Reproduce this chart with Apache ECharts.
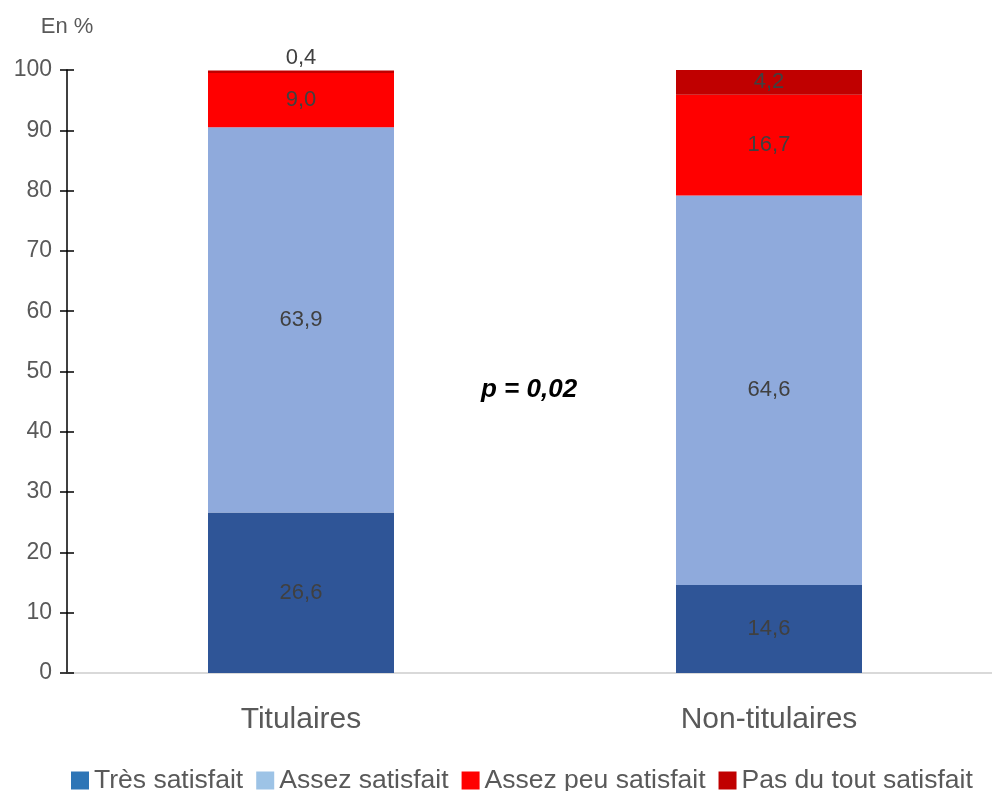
<!DOCTYPE html>
<html>
<head>
<meta charset="utf-8">
<script src="https://cdn.jsdelivr.net/npm/echarts@6/dist/echarts.min.js"></script>
<style>
  html, body { margin: 0; padding: 0; background: #fff; }
  #chart { width: 992px; height: 791px; }
</style>
</head>
<body>
<div id="chart"></div>
<script>
var categories = ["Titulaires", "Non-titulaires"];
var seriesNames = ["Très satisfait", "Assez satisfait", "Assez peu satisfait", "Pas du tout satisfait"];
var tresSatisfait = [26.6, 14.6];
var assezSatisfait = [63.9, 64.6];
var assezPeuSatisfait = [9.0, 16.7];
var pasDuToutSatisfait = [0.4, 4.2];
var yTicks = [0, 10, 20, 30, 40, 50, 60, 70, 80, 90, 100];

var barColors = ["#2F5597", "#8FAADC", "#FF0000", "#C00000"];
var legendColors = ["#2E75B6", "#9DC3E6", "#FF0000", "#C00000"];
var font = "Liberation Sans";

function fmt(v) {
  return v.toFixed(1).replace(".", ",");
}

function makeData(values) {
  return values.map(function (v) {
    // very thin segments get their label above the bar
    if (v < 1) {
      return { value: v, label: { position: "top", distance: 2 } };
    }
    return v;
  });
}

var allValues = [tresSatisfait, assezSatisfait, assezPeuSatisfait, pasDuToutSatisfait];

var series = allValues.map(function (vals, i) {
  return {
    name: seriesNames[i],
    type: "bar",
    stack: "total",
    barWidth: 186,
    data: makeData(vals),
    itemStyle: { color: barColors[i] },
    label: {
      show: true,
      position: "inside",
      color: "#404040",
      fontFamily: font,
      fontSize: 22,
      formatter: function (p) { return fmt(p.value); }
    }
  };
});

var chart = echarts.init(document.getElementById("chart"));
var option = {
  animation: false,
  grid: { left: 67, top: 70, bottom: 118, width: 936, outerBoundsMode: "none", containLabel: false },
  legend: {
    bottom: -3,
    left: 71,
    padding: 0,
    itemGap: 13,
    itemWidth: 18,
    itemHeight: 18,
    icon: "rect",
    textStyle: { fontFamily: font, fontSize: 26.5, color: "#595959" },
    data: seriesNames.map(function (n, i) {
      return { name: n, itemStyle: { color: legendColors[i] } };
    })
  },
  xAxis: {
    type: "category",
    data: categories,
    axisLine: { lineStyle: { color: "#D9D9D9", width: 2 } },
    axisTick: { show: false },
    axisLabel: { fontFamily: font, fontSize: 30, color: "#595959", margin: 32 }
  },
  yAxis: [
    {
      type: "value",
      min: yTicks[0],
      max: yTicks[yTicks.length - 1],
      interval: 10,
      name: "En %",
      nameLocation: "end",
      nameGap: 32,
      nameTextStyle: { fontFamily: font, fontSize: 22, color: "#595959", align: "center" },
      axisLine: { show: true, lineStyle: { color: "#000", width: 1.5 } },
      axisTick: { show: true, length: 7, lineStyle: { color: "#000", width: 1.5 } },
      splitLine: { show: false },
      axisLabel: { fontFamily: font, fontSize: 23, color: "#595959", margin: 15 }
    },
    {
      type: "value",
      position: "left",
      min: yTicks[0],
      max: yTicks[yTicks.length - 1],
      interval: 10,
      axisLine: { show: false },
      axisTick: { show: true, inside: true, length: 7, lineStyle: { color: "#000", width: 1.5 } },
      splitLine: { show: false },
      axisLabel: { show: false }
    }
  ],
  graphic: [
    {
      type: "text",
      left: 481,
      top: 377,
      style: {
        text: "p = 0,02",
        fontFamily: font,
        fontSize: 26,
        fontWeight: "bold",
        fontStyle: "italic",
        fill: "#000"
      }
    }
  ],
  series: series
};
chart.setOption(option);
</script>
</body>
</html>
